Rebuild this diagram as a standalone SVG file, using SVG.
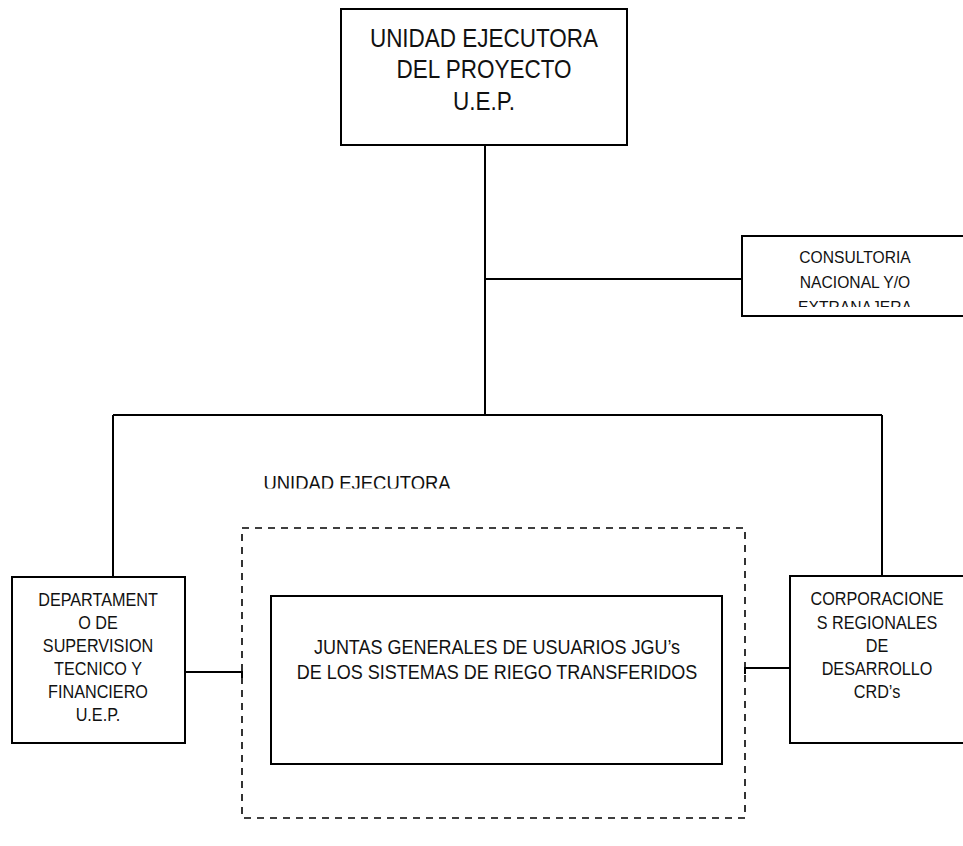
<svg xmlns="http://www.w3.org/2000/svg" width="963" height="846" viewBox="0 0 963 846">
<style>
.box{fill:#fff;stroke:#000;stroke-width:2}
.ln{fill:none;stroke:#000;stroke-width:2}
.dash{fill:none;stroke:#000;stroke-width:1.6;stroke-dasharray:7 6}
text{font-family:"Liberation Sans",Arial,sans-serif;fill:#111;text-anchor:middle}
</style>
<defs>
<clipPath id="cCons"><rect x="742" y="236" width="221" height="71"/></clipPath>
<clipPath id="cUnid"><rect x="240" y="460" width="300" height="28.5"/></clipPath>
</defs>
<rect width="963" height="846" fill="#fff"/>
<g id="connectors">
<path class="ln" d="M485 145 V415"/>
<path class="ln" d="M485 279 H742"/>
<path class="ln" d="M113 415 H882"/>
<path class="ln" d="M113 415 V577"/>
<path class="ln" d="M882 415 V577"/>
<path class="ln" d="M185 672 H242 V678"/>
<path class="ln" d="M745 674 V668 H790"/>
</g>
<g id="uep">
<rect class="box" x="341" y="9" width="286" height="136"/>
<g transform="translate(484,0) scale(0.9,1)" font-size="25">
<text x="0" y="47">UNIDAD EJECUTORA</text>
<text x="0" y="78">DEL PROYECTO</text>
<text x="0" y="110">U.E.P.</text>
</g>
</g>
<g id="consultoria">
<path class="box" d="M965 236 H742 V316 H965"/>
<g clip-path="url(#cCons)">
<g transform="translate(855,0) scale(0.92,1)" font-size="17">
<text x="0" y="263">CONSULTORIA</text>
<text x="0" y="288">NACIONAL Y/O</text>
<text x="0" y="313">EXTRANAJERA</text>
</g>
</g>
</g>
<g id="unidad-label" clip-path="url(#cUnid)">
<g transform="translate(357,0) scale(0.9,1)" font-size="20.5">
<text x="0" y="490">UNIDAD EJECUTORA</text>
</g>
</g>
<g id="unidad-ejecutora">
<rect class="dash" x="242" y="528" width="503" height="290"/>
</g>
<g id="departamento">
<rect class="box" x="12" y="577" width="173" height="166"/>
<g transform="translate(98,0) scale(0.9,1)" font-size="18">
<text x="0" y="606">DEPARTAMENT</text>
<text x="0" y="629">O DE</text>
<text x="0" y="652">SUPERVISION</text>
<text x="0" y="675">TECNICO Y</text>
<text x="0" y="698">FINANCIERO</text>
<text x="0" y="721">U.E.P.</text>
</g>
</g>
<g id="juntas">
<rect class="box" x="271" y="596" width="451" height="168"/>
<g transform="translate(497,0) scale(0.9,1)" font-size="20">
<text x="0" y="654">JUNTAS GENERALES DE USUARIOS JGU’s</text>
<text x="0" y="679">DE LOS SISTEMAS DE RIEGO TRANSFERIDOS</text>
</g>
</g>
<g id="corporaciones">
<path class="box" d="M965 576 H790 V743 H965"/>
<g transform="translate(877,0) scale(0.9,1)" font-size="18">
<text x="0" y="605">CORPORACIONE</text>
<text x="0" y="629">S REGIONALES</text>
<text x="0" y="652">DE</text>
<text x="0" y="675">DESARROLLO</text>
<text x="0" y="698">CRD’s</text>
</g>
</g>
</svg>
